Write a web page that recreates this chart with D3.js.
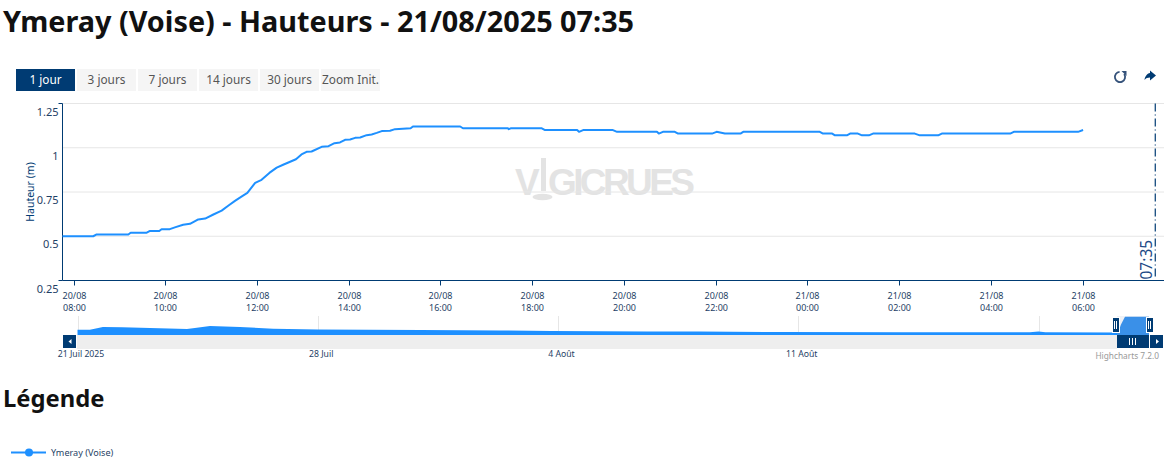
<!DOCTYPE html>
<html><head><meta charset="utf-8">
<script src="https://cdn.jsdelivr.net/npm/d3@7"></script>
<style>html,body{margin:0;padding:0;background:#fff;overflow:hidden}svg{display:block}</style>
</head><body><svg id="c" width="1169" height="467"></svg>
<script>
const titleText = "Ymeray (Voise) - Hauteurs - 21/08/2025 07:35";
const legendTitle = "Légende";
const seriesName = "Ymeray (Voise)";
const buttonLabels = ["1 jour","3 jours","7 jours","14 jours","30 jours","Zoom Init."];
const yTicks = [0.25,0.5,0.75,1,1.25];
const yTickLabels = ["0.25","0.5","0.75","1","1.25"];
const xTickHours = [0,2,4,6,8,10,12,14,16,18,20,22];
const xTickDays = ["20/08","20/08","20/08","20/08","20/08","20/08","20/08","20/08","21/08","21/08","21/08","21/08"];
const xTickTimes = ["08:00","10:00","12:00","14:00","16:00","18:00","20:00","22:00","00:00","02:00","04:00","06:00"];
// hours after 20/08 08:00
const hours = [-0.24,0.43,0.505,1.195,1.246,1.596,1.668,1.87,1.92,2.10,2.21,2.39,2.54,2.72,2.87,3.05,3.23,3.38,3.52,3.67,3.79,3.96,4.10,4.27,4.43,4.57,4.85,4.97,5.08,5.19,5.41,5.56,5.69,5.81,5.92,6.03,6.14,6.25,6.39,6.50,6.61,6.72,6.90,7.01,7.35,7.40,8.43,8.49,9.47,9.49,9.53,9.58,10.21,10.28,10.98,11.02,11.11,11.76,11.85,12.72,12.76,12.85,13.11,13.18,13.92,14.02,14.20,14.54,14.60,16.27,16.34,16.54,16.60,16.86,16.93,17.10,17.19,17.34,17.43,18.34,18.45,18.85,18.93,20.42,20.50,21.90,22.01];
const heights = [0.50,0.50,0.51,0.51,0.52,0.52,0.53,0.53,0.54,0.54,0.55,0.565,0.57,0.595,0.60,0.623,0.645,0.674,0.70,0.725,0.745,0.802,0.819,0.858,0.888,0.904,0.935,0.962,0.977,0.979,1.005,1.009,1.026,1.03,1.045,1.047,1.056,1.058,1.071,1.075,1.084,1.094,1.096,1.105,1.11,1.12,1.12,1.11,1.11,1.105,1.11,1.11,1.11,1.10,1.10,1.09,1.10,1.10,1.09,1.09,1.08,1.09,1.09,1.08,1.08,1.09,1.08,1.08,1.09,1.09,1.08,1.08,1.07,1.07,1.08,1.08,1.07,1.07,1.08,1.08,1.07,1.07,1.08,1.08,1.09,1.09,1.10];
// overview: days after 21 Juil 2025
const navDays = [0,0.36,0.5,0.74,1.3,2.11,3.19,3.42,3.86,4.73,5.70,7.0,8.5,10,12.3,13.8,15.2,16.6,18.1,20.5,24,27.75,28,28.2,30.26,30.32,30.4,30.52,31.28];
const navHeights = [0.606,0.606,0.64,0.71,0.70,0.672,0.633,0.672,0.75,0.71,0.645,0.614,0.60,0.595,0.575,0.56,0.544,0.54,0.536,0.517,0.51,0.505,0.536,0.505,0.50,0.50,0.80,1.11,1.11];
const navTickDays = [0,7,14,21,28];
const navTickLabels = ["21 Juil 2025","28 Juil","4 Août","11 Août",""];

const FONT = "'Noto Sans',sans-serif", NAVY="#003b73", BLUE="#1e90ff", TXT="#1f3f66";
const svg = d3.select("#c").style("font-family",FONT);
const L=62.5,R=1164,T=103.5,B=280.5;
const base = new Date(2025,7,20,8,0);
const at = h => new Date(+base + h*3600e3);
const x = d3.scaleTime().domain([at((L-73.5)/45.87),at((R-73.5)/45.87)]).range([L,R]);
const y = d3.scaleLinear().domain([0.25,1.25]).range([B,T]);

svg.append("text").attr("x",3).attr("y",32).attr("font-size",28.8).attr("font-weight",700).attr("fill","#111").text(titleText);
svg.append("text").attr("x",3).attr("y",407).attr("font-size",23.8).attr("font-weight",700).attr("fill","#111").text(legendTitle);

const bw = 59;
const btn = svg.append("g").selectAll("g").data(buttonLabels).join("g").attr("transform",(d,i)=>`translate(${16+i*61},69)`);
btn.append("rect").attr("width",bw).attr("height",22).attr("fill",(d,i)=>i?"#f5f5f5":NAVY);
btn.append("text").attr("x",bw/2).attr("y",15).attr("text-anchor","middle").attr("font-size",11.8).attr("fill",(d,i)=>i?"#555":"#fff").text(d=>d);

// icons
svg.append("path").attr("d",d3.arc()({innerRadius:4.2,outerRadius:6,startAngle:0.95,endAngle:6.2})).attr("transform","translate(1120,77)").attr("fill","#35527a");
svg.append("path").attr("d","M1121.500,71h5v5z").attr("fill","#35527a");
svg.append("path").attr("d","M1150,73v-2.500l6,5-6,5v-3c-2.500,0-4,.7-5.500,2.500c.4-3.500,2.500-6.500,5.500-7z").attr("fill",NAVY);

// watermark
const wm = svg.append("g").attr("fill","#e3e3e3").attr("font-size",37).attr("font-weight",700).attr("font-family","'Liberation Sans',sans-serif");
wm.append("text").attr("x",515).attr("y",195).attr("textLength",24).text("V");
wm.append("text").attr("x",548).attr("y",195).attr("textLength",147).text("GICRUES");
wm.append("rect").attr("x",541).attr("y",158).attr("width",5).attr("height",33);
wm.append("ellipse").attr("cx",542.5).attr("cy",197).attr("rx",10).attr("ry",3.2);

// grid
svg.append("g").selectAll("line").data(yTicks).join("line").attr("x1",L).attr("x2",R).attr("y1",d=>y(d)).attr("y2",d=>y(d)).attr("stroke",(d)=>d===0.25?"none":"#e6e6e6");
svg.append("line").attr("x1",L).attr("x2",L).attr("y1",T).attr("y2",B).attr("stroke",NAVY);
svg.append("line").attr("x1",L-4).attr("x2",L).attr("y1",T).attr("y2",T).attr("stroke",NAVY);
svg.append("line").attr("x1",L-4).attr("x2",L).attr("y1",B).attr("y2",B).attr("stroke",NAVY);
svg.append("g").selectAll("text").data(yTicks).join("text").attr("x",58.5).attr("y",d=>y(d)+12).attr("text-anchor","end").attr("font-size",11).attr("fill",TXT).text((d,i)=>yTickLabels[i]);
svg.append("text").attr("transform",`translate(34,${(T+B)/2}) rotate(-90)`).attr("text-anchor","middle").attr("font-size",10.5).attr("fill",NAVY).text("Hauteur (m)");

// x axis
svg.append("line").attr("x1",L).attr("x2",R).attr("y1",B).attr("y2",B).attr("stroke",NAVY);
const xt = svg.append("g").selectAll("g").data(xTickHours).join("g").attr("transform",h=>`translate(${Math.round(x(at(h)))+.5},${B})`);
xt.append("line").attr("y2",5).attr("stroke",NAVY);
xt.append("text").attr("y",18).attr("text-anchor","middle").attr("font-size",9).attr("fill",TXT).text((d,i)=>xTickDays[i]);
xt.append("text").attr("y",30).attr("text-anchor","middle").attr("font-size",9).attr("fill",TXT).text((d,i)=>xTickTimes[i]);

// line
const pts = hours.map((h,i)=>[at(h),heights[i]]);
svg.append("path").datum(pts).attr("fill","none").attr("stroke",BLUE).attr("stroke-width",2).attr("stroke-linejoin","round")
 .attr("d",d3.line().x(d=>x(d[0])).y(d=>y(d[1])));

// now marker
const nowX = x(at(23+35/60));
svg.append("line").attr("x1",nowX).attr("x2",nowX).attr("y1",T).attr("y2",B-2).attr("stroke",NAVY).attr("stroke-width",1.2).attr("stroke-dasharray","8,3,1,3");
svg.append("text").attr("transform",`translate(${nowX-3},${B-1}) rotate(-90)`).attr("font-size",15.5).attr("fill","#1d4a86").text("07:35");

// navigator
const nx = d3.scaleLinear().domain([0,28]).range([77.5,1038.5]);
const ny = d3.scaleLinear().domain([0.40,1.12]).range([335,316.5]);
const nT=335,nB=348;
svg.append("rect").attr("x",77).attr("y",nT).attr("width",1040).attr("height",nB-nT+1).attr("fill","#eeeeee");
svg.append("g").selectAll("line").data(navTickDays).join("line").attr("x1",d=>Math.round(nx(d))+.5).attr("x2",d=>Math.round(nx(d))+.5).attr("y1",316).attr("y2",nT).attr("stroke","#e6e6e6");
svg.append("rect").attr("x",1117).attr("y",316).attr("width",32).attr("height",19).attr("fill","#eef1f6");
const navPts = navDays.map((d,i)=>[d,navHeights[i]]);
const area = d3.area().x(d=>nx(d[0])).y0(nT).y1(d=>ny(d[1]));
svg.append("clipPath").attr("id","out").append("rect").attr("x",77).attr("y",310).attr("width",1040).attr("height",30);
svg.append("clipPath").attr("id","in").append("rect").attr("x",1117).attr("y",310).attr("width",32).attr("height",30);
svg.append("path").datum(navPts).attr("clip-path","url(#out)").attr("fill",BLUE).attr("d",area);
svg.append("path").datum(navPts).attr("clip-path","url(#in)").attr("fill","#3a90e8").attr("d",area);
svg.append("g").selectAll("text").data(navTickDays).join("text").attr("x",d=>nx(d)+3.5).attr("y",357).attr("text-anchor","middle").attr("font-size",8.7).attr("fill",TXT).text((d,i)=>navTickLabels[i]);
// scrollbar
svg.append("rect").attr("x",63).attr("y",nT).attr("width",13).attr("height",nB-nT).attr("fill",NAVY);
svg.append("path").attr("d",`M71.5,339v5l-3-2.500z`).attr("fill","#fff");
svg.append("rect").attr("x",1117).attr("y",nT).attr("width",32).attr("height",nB-nT).attr("fill",NAVY);
[1129.5,1132.5,1135.5].forEach(v=>svg.append("line").attr("x1",v).attr("x2",v).attr("y1",338).attr("y2",345).attr("stroke","#fff"));
svg.append("rect").attr("x",1150).attr("y",nT).attr("width",13).attr("height",nB-nT).attr("fill",NAVY);
svg.append("path").attr("d",`M1156,339v5l3-2.500z`).attr("fill","#fff");
// handles
[1112.5,1146.5].forEach(v=>{
 svg.append("rect").attr("x",v).attr("y",317.5).attr("width",7).attr("height",15).attr("fill",NAVY).attr("stroke","#fff");
 [v+2,v+4].forEach(u=>svg.append("line").attr("x1",u).attr("x2",u).attr("y1",321).attr("y2",329).attr("stroke","#fff"));
});
svg.append("text").attr("x",1159).attr("y",359).attr("text-anchor","end").attr("font-size",8.3).attr("fill","#999").text("Highcharts 7.2.0");

// legend
svg.append("line").attr("x1",11).attr("x2",46).attr("y1",452.5).attr("y2",452.5).attr("stroke",BLUE).attr("stroke-width",2);
svg.append("circle").attr("cx",29).attr("cy",452.5).attr("r",4).attr("fill",BLUE);
svg.append("text").attr("x",51).attr("y",456).attr("font-size",9.1).attr("fill",TXT).text(seriesName);
</script></body></html>
